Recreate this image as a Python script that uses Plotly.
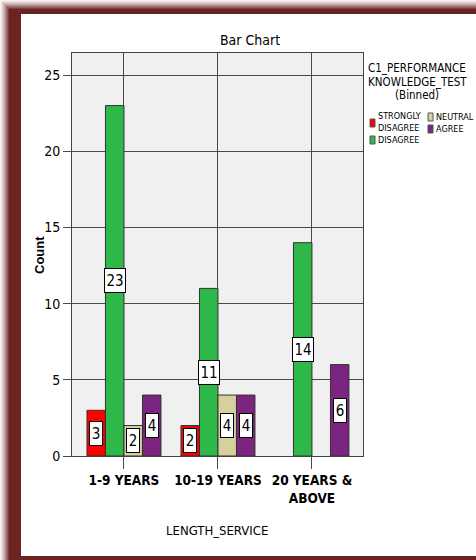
import plotly.graph_objects as go

# ---- data -------------------------------------------------------------
categories = ["1-9 YEARS", "10-19 YEARS", "20 YEARS &<br>ABOVE"]
series_names = ["STRONGLY DISAGREE", "DISAGREE", "NEUTRAL", "AGREE"]
strongly_disagree = [3, 2, 0]
disagree = [23, 11, 14]
neutral = [2, 4, 0]
agree = [4, 4, 6]
y_ticks = [0, 5, 10, 15, 20, 25]

series_values = [strongly_disagree, disagree, neutral, agree]
colors = ["#ff0000", "#2fb84a", "#d6d09e", "#7b2480"]

# ---- geometry ---------------------------------------------------------
W, H = 476, 560
ML, MR, MT, MB = 72, 113, 53, 104
PW, PH = W - ML - MR, H - MT - MB
BARGAP = 0.213
BW = (1 - BARGAP) / len(series_names)

NARROW = "DejaVu Sans Condensed, Liberation Sans Narrow, Arial Narrow, sans-serif"


def px_x(px):
    return (px - ML) / PW


def px_y(py):
    return (H - MB - py) / PH


fig = go.Figure()
xs = list(range(len(categories)))
for name, vals, col in zip(series_names, series_values, colors):
    fig.add_trace(go.Bar(
        x=xs, y=[v if v > 0 else None for v in vals], name=name,
        marker=dict(color=col, line=dict(color="#333333", width=1)),
        showlegend=False, hoverinfo="x+y+name",
    ))

# value boxes in the middle of every non-empty bar
annotations = []
for j, vals in enumerate(series_values):
    for i, v in enumerate(vals):
        if v <= 0:
            continue
        txt = str(v)
        annotations.append(dict(
            x=i + (j - (len(series_names) - 1) / 2) * BW, y=v / 2,
            xref="x", yref="y", text=txt, showarrow=False,
            font=dict(family=NARROW, size=15, color="black"),
            width=round(8.6 * len(txt)) + 3, height=23,
            bgcolor="white", bordercolor="black", borderwidth=1, borderpad=0,
        ))

# axis titles
annotations.append(dict(
    x=px_x(217), y=px_y(530), xref="paper", yref="paper", text="LENGTH_SERVICE",
    showarrow=False, font=dict(family=NARROW, size=13, color="black"),
    xanchor="center", yanchor="middle"))
annotations.append(dict(
    x=px_x(39), y=px_y(255), xref="paper", yref="paper", text="<b>Count</b>",
    showarrow=False, textangle=-90,
    font=dict(family="Liberation Sans, Arial, sans-serif", size=13, color="black"),
    xanchor="center", yanchor="middle"))

# legend title
for txt, yy in [("C1_PERFORMANCE", 68), ("KNOWLEDGE_TEST", 82), ("(Binned)", 95)]:
    annotations.append(dict(
        x=px_x(417), y=px_y(yy), xref="paper", yref="paper", text=txt,
        showarrow=False, font=dict(family=NARROW, size=11.5, color="black"),
        xanchor="center", yanchor="middle"))

# legend entries: (label, swatch x, swatch y center, text x, text y center)
legend_layout = [
    ("STRONGLY<br>DISAGREE", 373, 123, 376, 122),
    ("DISAGREE", 373, 140, 376, 140),
    ("NEUTRAL", 431, 117, 434, 117),
    ("AGREE", 431, 129, 434, 129),
]
shapes = []
for (label, sx, sy, tx, ty), col in zip(legend_layout, colors):
    shapes.append(dict(
        type="rect", xref="paper", yref="paper",
        x0=px_x(sx - 3), x1=px_x(sx + 2), y0=px_y(sy + 4), y1=px_y(sy - 4),
        fillcolor=col, line=dict(color="#555555", width=1)))
    annotations.append(dict(
        x=px_x(tx), y=px_y(ty), xref="paper", yref="paper", text=label,
        showarrow=False, align="left",
        font=dict(family=NARROW, size=9, color="black"),
        xanchor="left", yanchor="middle"))

# ---- maroon frame with soft outer shadow -------------------------------
MAROON = (107, 35, 35)


def blend(t):
    r = int(255 + (MAROON[0] - 255) * t)
    g = int(255 + (MAROON[1] - 255) * t)
    b = int(255 + (MAROON[2] - 255) * t)
    return f"rgb({r},{g},{b})"


def frame_rect(x0, y0, x1, y1, color):
    shapes.append(dict(
        type="rect", xref="paper", yref="paper", layer="below",
        x0=px_x(x0), x1=px_x(x1), y0=px_y(y1), y1=px_y(y0),
        fillcolor=color, line=dict(width=0)))


FADE = 10
# solid bands
frame_rect(FADE, FADE, W, 14, blend(1))
frame_rect(FADE, FADE, 21, H, blend(1))
frame_rect(21, 556, W, H, blend(1))
# fading strips on the outer top and left edges
for k in range(FADE):
    t = ((k + 1) / FADE) ** 1.3
    frame_rect(k, k, k + 1, H, blend(t))
    frame_rect(k, k, W, k + 1, blend(t))

fig.update_layout(
    width=W, height=H,
    margin=dict(l=ML, r=MR, t=MT, b=MB),
    paper_bgcolor="white", plot_bgcolor="#f0f0f0",
    barmode="group", bargap=BARGAP, bargroupgap=0,
    title=dict(text="Bar Chart", x=250 / W, y=1 - 40 / H,
               xref="container", yref="container",
               xanchor="center", yanchor="middle",
               font=dict(family=NARROW, size=14, color="black")),
    annotations=annotations, shapes=shapes,
    showlegend=False,
)

fig.update_xaxes(
    range=[-0.553, 2.543], tickvals=xs, ticktext=[f"<b>{c}</b>" for c in categories],
    tickangle=0,
    tickfont=dict(family=NARROW, size=13.5, color="black"),
    showgrid=True, gridcolor="#4a4a4a", gridwidth=1,
    ticks="outside", ticklen=12, tickcolor="#4a4a4a",
    showline=True, linecolor="#444444", linewidth=1, mirror=True,
    zeroline=False, fixedrange=True,
)
fig.update_yaxes(
    range=[0, 26.45], tickvals=y_ticks,
    tickfont=dict(family=NARROW, size=14, color="black"),
    showgrid=True, gridcolor="#4a4a4a", gridwidth=1,
    ticks="outside", ticklen=8, tickcolor="#4a4a4a",
    showline=True, linecolor="#444444", linewidth=1, mirror=True,
    zeroline=False, fixedrange=True,
)

fig.write_html("out.html")
